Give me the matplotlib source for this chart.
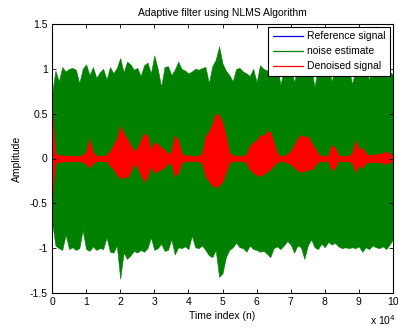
import numpy as np
import matplotlib.pyplot as plt
from matplotlib.lines import Line2D

plt.rcParams['font.family'] = ['Liberation Sans', 'DejaVu Sans']

# sample index in units of 1e4, one value every 1000 samples
t = np.arange(101) / 10.0

# peak envelope of the noise estimate
noise_hi = [0.72, 0.98, 0.86, 1.02, 0.97, 1.00, 1.01, 0.99, 0.84, 1.00,
            1.05, 0.93, 1.02, 0.90, 0.96, 1.00, 0.88, 1.02, 0.95, 1.01,
            1.12, 0.96, 1.08, 1.05, 0.99, 1.01, 0.92, 1.04, 1.07, 0.95,
            1.15, 1.00, 0.80, 1.02, 1.03, 0.93, 0.99, 1.08, 1.00, 0.98,
            0.95, 0.97, 1.00, 0.99, 1.01, 1.02, 0.84, 1.03, 1.10, 1.25,
            1.06, 0.98, 0.93, 0.86, 1.00, 1.01, 0.97, 0.95, 0.92, 1.00,
            0.85, 1.04, 1.00, 0.98, 1.02, 0.96, 1.05, 0.82, 1.00, 0.98,
            1.03, 0.85, 1.01, 0.97, 1.04, 0.93, 1.00, 0.80, 1.02, 0.99,
            0.95, 1.03, 0.86, 1.00, 0.97, 1.05, 0.92, 1.01, 0.83, 0.99,
            1.02, 0.96, 1.00, 0.88, 1.03, 0.98, 0.94, 1.01, 1.06, 0.97,
            0.93]
noise_lo = [-0.70, -0.97, -1.00, -1.02, -0.85, -1.01, -0.99, -1.02, -1.00, -0.80,
            -1.01, -1.03, -0.98, -1.02, -1.00, -1.01, -0.88, -1.04, -1.05, -0.97,
            -1.34, -1.05, -1.12, -1.08, -1.03, -1.05, -1.02, -1.04, -1.00, -0.88,
            -1.02, -1.00, -0.95, -1.03, -1.02, -0.90, -1.07, -0.99, -1.00, -0.98,
            -1.01, -0.86, -0.99, -1.00, -0.97, -1.02, -1.08, -1.10, -1.02, -1.32,
            -1.28, -1.10, -1.02, -0.99, -0.94, -0.99, -1.00, -1.04, -0.97, -1.01,
            -1.02, -1.04, -1.03, -1.06, -1.10, -1.00, -0.98, -1.01, -0.97, -0.92,
            -0.96, -1.05, -0.97, -0.99, -1.12, -0.97, -0.90, -0.99, -1.01, -0.95,
            -0.99, -0.93, -0.96, -0.94, -0.98, -1.00, -0.99, -1.00, -0.99, -1.00,
            -0.98, -1.04, -0.99, -1.01, -0.97, -0.99, -1.00, -0.98, -1.01, -0.96,
            -0.90]

# peak envelope of the denoised (speech) signal
clean_hi = [0.55, 0.05, 0.04, 0.035, 0.03, 0.035, 0.03, 0.03, 0.03, 0.04,
            0.08, 0.22, 0.07, 0.03, 0.03, 0.03, 0.04, 0.08, 0.15, 0.22,
            0.36, 0.28, 0.22, 0.15, 0.08, 0.12, 0.20, 0.28, 0.25, 0.10,
            0.18, 0.16, 0.12, 0.10, 0.05, 0.08, 0.26, 0.20, 0.06, 0.03,
            0.04, 0.03, 0.025, 0.03, 0.06, 0.25, 0.30, 0.38, 0.50, 0.48,
            0.40, 0.25, 0.06, 0.04, 0.03, 0.03, 0.03, 0.05, 0.14, 0.18,
            0.20, 0.26, 0.25, 0.30, 0.30, 0.18, 0.06, 0.03, 0.03, 0.05,
            0.08, 0.15, 0.22, 0.26, 0.24, 0.25, 0.18, 0.12, 0.06, 0.03,
            0.03, 0.03, 0.15, 0.12, 0.04, 0.03, 0.03, 0.03, 0.06, 0.20,
            0.10, 0.12, 0.06, 0.04, 0.04, 0.05, 0.05, 0.06, 0.08, 0.05,
            0.04]
clean_lo = [-0.45, -0.05, -0.04, -0.035, -0.03, -0.035, -0.03, -0.03, -0.03, -0.04,
            -0.06, -0.10, -0.05, -0.03, -0.03, -0.03, -0.03, -0.08, -0.12, -0.18,
            -0.22, -0.20, -0.22, -0.15, -0.06, -0.10, -0.18, -0.26, -0.20, -0.08,
            -0.16, -0.14, -0.12, -0.10, -0.05, -0.06, -0.20, -0.16, -0.05, -0.03,
            -0.03, -0.03, -0.03, -0.03, -0.06, -0.20, -0.25, -0.30, -0.32, -0.30,
            -0.26, -0.15, -0.05, -0.03, -0.03, -0.03, -0.03, -0.05, -0.12, -0.16,
            -0.18, -0.20, -0.17, -0.15, -0.12, -0.08, -0.04, -0.03, -0.03, -0.05,
            -0.06, -0.10, -0.13, -0.15, -0.14, -0.12, -0.13, -0.08, -0.04, -0.03,
            -0.03, -0.03, -0.13, -0.10, -0.03, -0.03, -0.03, -0.03, -0.05, -0.15,
            -0.08, -0.10, -0.05, -0.04, -0.04, -0.04, -0.04, -0.05, -0.06, -0.04,
            -0.03]

fig = plt.figure(figsize=(3.98, 3.30), dpi=100)
ax = fig.add_axes([52/398, 37/330, 341/398, 269/330])

green = '#008000'
ax.fill_between(t, noise_lo, noise_hi, color=green, lw=0.4, edgecolor=green)
ax.fill_between(t, clean_lo, clean_hi, color='red', lw=0.4, edgecolor='red')

ax.set_xlim(0, 10)
ax.set_ylim(-1.5, 1.5)
ax.set_xticks(range(0, 11))
ax.set_yticks([-1.5, -1, -0.5, 0, 0.5, 1, 1.5])
ax.set_yticklabels(['-1.5', '-1', '-0.5', '0', '0.5', '1', '1.5'])
ax.tick_params(direction='in', length=3, width=0.6, labelsize=7.5,
               top=True, right=True, pad=3)
for s in ax.spines.values():
    s.set_linewidth(0.8)

ax.set_title('Adaptive filter using NLMS Algorithm', fontsize=7.5, pad=6)
ax.set_xlabel('Time index (n)', fontsize=7.5, labelpad=3)
ax.set_ylabel('Amplitude', fontsize=7.5, labelpad=6)
fig.text(370/398, 1 - 320/330, r'x 10$^4$', fontsize=7.5, va='center')

handles = [Line2D([], [], color='blue', lw=0.9),
           Line2D([], [], color=green, lw=0.9),
           Line2D([], [], color='red', lw=0.9)]
leg = ax.legend(handles, ['Reference signal', 'noise estimate', 'Denoised signal'],
                loc='upper right', bbox_to_anchor=(1.0, 1.0), fontsize=7.5,
                fancybox=False, framealpha=1, edgecolor='black',
                handlelength=2.9, handletextpad=0.4, labelspacing=0.48,
                borderpad=0.45, borderaxespad=0.25)
leg.get_frame().set_linewidth(0.8)

fig.savefig('out.png', dpi=100)
